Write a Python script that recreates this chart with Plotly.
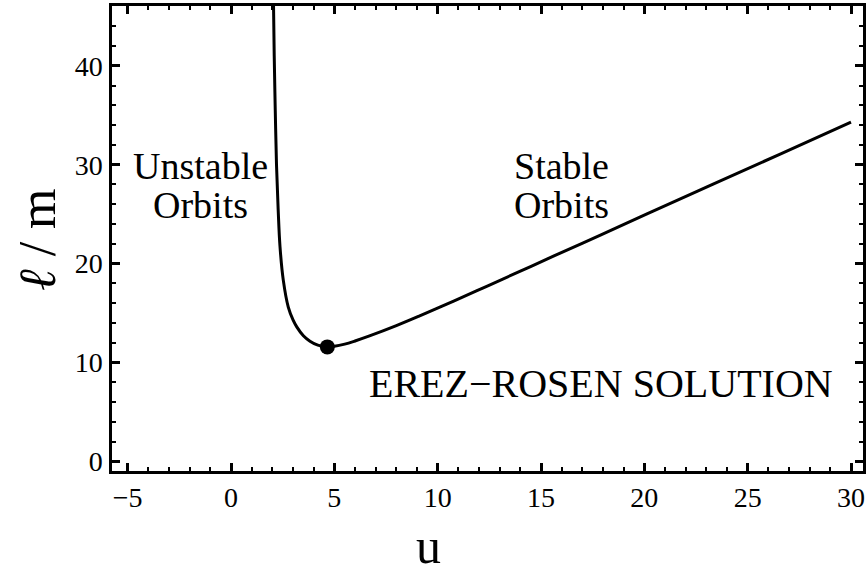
import plotly.graph_objects as go

# Curve data (u, l/m)
u_vals = [2.05, 2.09, 2.14, 2.20, 2.28, 2.37, 2.53, 2.77, 3.00, 3.18, 3.50, 3.82, 4.20, 4.66,
          5.00, 5.50, 6.00, 6.70, 8.00, 9.10, 10.8, 12.4, 14.0, 15.6, 17.9, 20.1, 23.3, 26.6, 30.0]
l_vals = [47.0, 41.0, 35.5, 30.0, 25.5, 21.7, 18.3, 15.6, 14.3, 13.6, 12.7, 12.15, 11.75, 11.57,
          11.63, 11.85, 12.17, 12.68, 13.72, 14.68, 16.23, 17.73, 19.23, 20.75, 22.9, 25.0, 28.0,
          31.1, 34.3]

min_u = [4.66]
min_l = [11.57]

x_ticks = [-5, 0, 5, 10, 15, 20, 25, 30]
y_ticks = [0, 10, 20, 30, 40]

FONT = "Liberation Serif"

fig = go.Figure()
fig.add_trace(go.Scatter(x=u_vals, y=l_vals, mode="lines",
                         line=dict(color="black", width=3, shape="spline", smoothing=1.0),
                         showlegend=False, hoverinfo="skip"))
fig.add_trace(go.Scatter(x=min_u, y=min_l, mode="markers",
                         marker=dict(color="black", size=15),
                         showlegend=False, hoverinfo="skip"))

axis_common = dict(showline=True, linecolor="black", linewidth=2.5, mirror="ticks",
                   ticks="inside", ticklen=8, tickwidth=2.5, tickcolor="black",
                   showgrid=False, zeroline=False,
                   tickfont=dict(family=FONT, size=28, color="black"))

fig.update_xaxes(range=[-5.76, 30.58], tickvals=x_ticks, ticklabelstandoff=0,
                 minor=dict(ticks="inside", ticklen=4, tickwidth=2, dtick=1, tick0=0,
                            tickcolor="black", showgrid=False),
                 **axis_common)
fig.update_yaxes(range=[-0.98, 46.05], tickvals=y_ticks, ticklabelstandoff=1,
                 minor=dict(ticks="inside", ticklen=4, tickwidth=2, dtick=2, tick0=0,
                            tickcolor="black", showgrid=False),
                 **axis_common)

annotations = [
    dict(x=-1.5, y=29.9, text="Unstable", size=38),
    dict(x=-1.5, y=25.9, text="Orbits", size=38),
    dict(x=16.0, y=29.9, text="Stable", size=38),
    dict(x=16.0, y=25.9, text="Orbits", size=38),
    dict(x=17.88, y=7.9, text="EREZ\u2212ROSEN SOLUTION", size=40),
]
for a in annotations:
    fig.add_annotation(x=a["x"], y=a["y"], text=a["text"], showarrow=False,
                       xref="x", yref="y", xanchor="center", yanchor="middle",
                       font=dict(family=FONT, size=a["size"], color="black"))

# Axis labels (placed in paper coords, as in the reference)
fig.add_annotation(x=(428 - 112) / 751, y=(471 - 546) / 465, xref="paper", yref="paper",
                   text="u", showarrow=False, xanchor="center", yanchor="middle",
                   font=dict(family=FONT, size=50, color="black"))
fig.add_annotation(x=(38 - 112) / 751, y=(471 - 240) / 465, xref="paper", yref="paper",
                   text="<i>\u2113</i> / m", showarrow=False, xanchor="center", yanchor="middle",
                   textangle=-90, font=dict(family=FONT, size=52, color="black"))

fig.update_layout(width=868, height=577,
                  margin=dict(l=112, r=5, t=6, b=106, autoexpand=False),
                  plot_bgcolor="white", paper_bgcolor="white")

fig.write_html("out.html", config={"displayModeBar": False},
               post_script="document.body.style.margin='0';")
